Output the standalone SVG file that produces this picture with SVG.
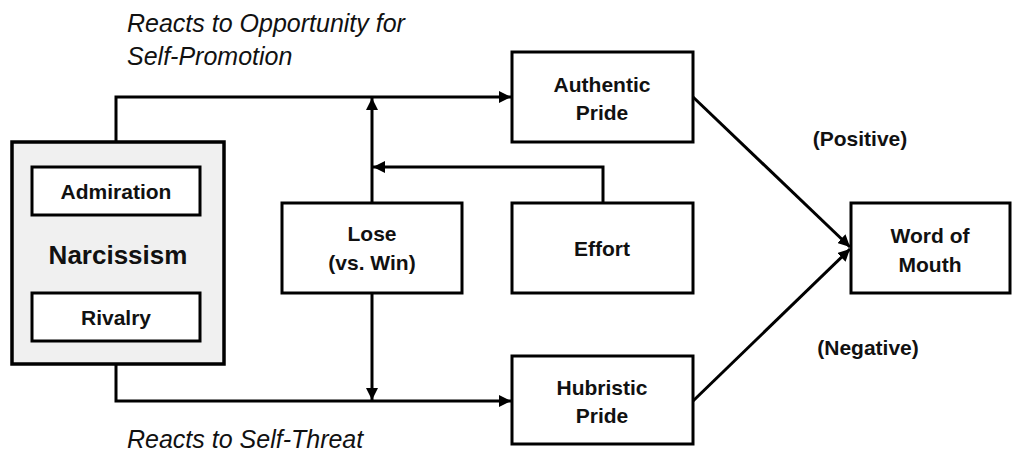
<svg xmlns="http://www.w3.org/2000/svg" width="1019" height="457" viewBox="0 0 1019 457">
<style>
.box{fill:#fff;stroke:#000;stroke-width:3}
.outer{fill:#f0f0f0;stroke:#000;stroke-width:3.5}
.lbl{font-family:"Liberation Sans",Arial,sans-serif;font-weight:bold;font-size:21px;text-anchor:middle;fill:#111}
.big{font-family:"Liberation Sans",Arial,sans-serif;font-weight:bold;font-size:26px;text-anchor:middle;fill:#111}
.it{font-family:"Liberation Sans",Arial,sans-serif;font-style:italic;font-size:25px;fill:#111}
.ln{fill:none;stroke:#000;stroke-width:3}
</style>
<defs>
<marker id="ah" viewBox="0 0 10 10" refX="10" refY="5" markerWidth="4" markerHeight="4" orient="auto" markerUnits="strokeWidth">
<path d="M0,0 L10,5 L0,10 z" fill="#000"/>
</marker>
</defs>
<g id="connectors">
<polyline class="ln" points="116,167 116,97 511,97" marker-end="url(#ah)"/>
<polyline class="ln" points="116,341 116,401 511,401" marker-end="url(#ah)"/>
<line class="ln" x1="372" y1="203" x2="372" y2="98" marker-end="url(#ah)"/>
<line class="ln" x1="372" y1="293" x2="372" y2="400" marker-end="url(#ah)"/>
<polyline class="ln" points="603,203 603,167 373,167" marker-end="url(#ah)"/>
<line class="ln" x1="693" y1="97" x2="850" y2="247" marker-end="url(#ah)"/>
<line class="ln" x1="693" y1="401" x2="850" y2="249" marker-end="url(#ah)"/>
</g>
<g id="narcissism">
<rect class="outer" x="12" y="142" width="212" height="222"/>
<text class="big" x="118" y="264">Narcissism</text>
</g>
<g id="admiration">
<rect class="box" x="32" y="167" width="168" height="48"/>
<text class="lbl" x="116" y="199">Admiration</text>
</g>
<g id="rivalry">
<rect class="box" x="32" y="293" width="168" height="48"/>
<text class="lbl" x="116" y="325">Rivalry</text>
</g>
<g id="authentic">
<rect class="box" x="512" y="52" width="181" height="90"/>
<text class="lbl" x="602" y="92">Authentic</text>
<text class="lbl" x="602" y="120">Pride</text>
</g>
<g id="lose">
<rect class="box" x="282" y="203" width="180" height="90"/>
<text class="lbl" x="372" y="241">Lose</text>
<text class="lbl" x="372" y="270">(vs. Win)</text>
</g>
<g id="effort">
<rect class="box" x="512" y="203" width="181" height="90"/>
<text class="lbl" x="602" y="256">Effort</text>
</g>
<g id="hubristic">
<rect class="box" x="512" y="356" width="181" height="88"/>
<text class="lbl" x="602" y="395">Hubristic</text>
<text class="lbl" x="602" y="423">Pride</text>
</g>
<g id="wom">
<rect class="box" x="851" y="203" width="159" height="90"/>
<text class="lbl" x="930" y="243">Word of</text>
<text class="lbl" x="930" y="272">Mouth</text>
</g>
<g id="labels">
<text class="lbl" x="860" y="146">(Positive)</text>
<text class="lbl" x="868" y="355">(Negative)</text>
<text class="it" x="127" y="32">Reacts to Opportunity for</text>
<text class="it" x="127" y="65">Self-Promotion</text>
<text class="it" x="127" y="448">Reacts to Self-Threat</text>
</g>
</svg>
